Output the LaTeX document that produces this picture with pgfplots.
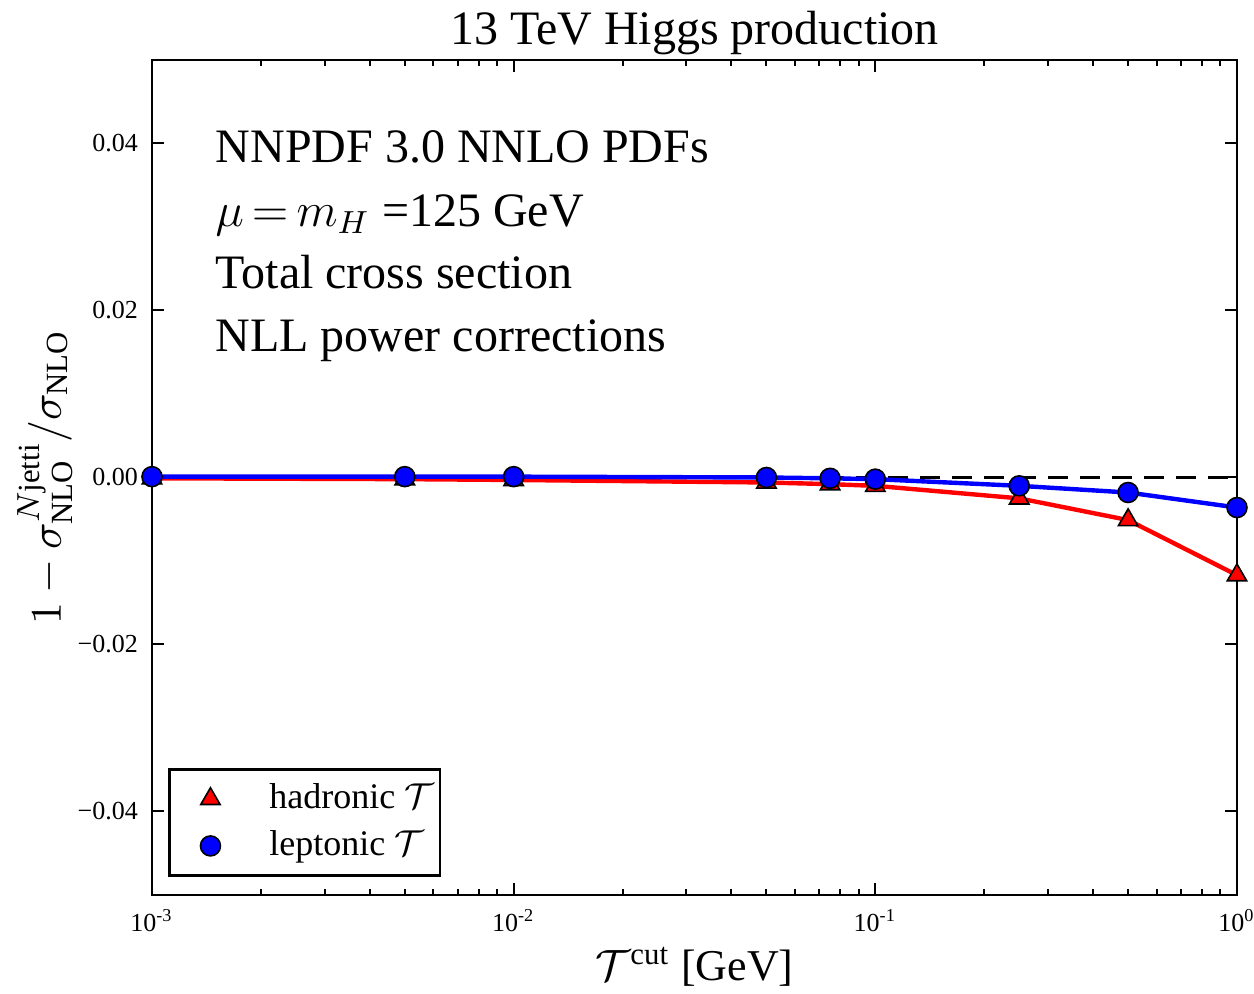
\documentclass[border=0pt]{standalone}
\usepackage{fontspec}
\setmainfont{Liberation Serif}
\usepackage{pgfplots}
\usepackage{pgfplotstable}
\pgfplotsset{compat=1.18}
\pgfplotsset{mylegimg/.style={legend image code/.code={\path[draw=none, fill=none] (0pt,-3pt) rectangle (23.5pt,3pt); \path[##1] plot coordinates {(10.25pt,0pt)};}}}

\pgfplotstableread{
x y
0.001 -0.0001
0.005 -0.0002
0.01 -0.0003
0.05 -0.0006
0.075 -0.0008
0.1 -0.0010
0.25 -0.0025
0.5 -0.0051
1 -0.0117
}\hadronic

\pgfplotstableread{
x y
0.001 0.0001
0.005 0.0001
0.01 0.0001
0.05 0.0000
0.075 -0.0001
0.1 -0.0002
0.25 -0.0010
0.5 -0.0018
1 -0.0036
}\leptonic

\begin{document}
\begin{tikzpicture}
\useasboundingbox (-38pt,-24.75pt) rectangle (275.5pt,223.75pt);
\begin{axis}[
  at={(0,0)}, anchor=south west,
  scale only axis, width=271.25pt, height=208.75pt,
  xmode=log, xmin=0.001, xmax=1, ymin=-0.05, ymax=0.05,
  scaled y ticks=false,
  xtick={0.001,0.01,0.1,1},
  xticklabels={10\textsuperscript{-3},10\textsuperscript{-2},10\textsuperscript{-1},10\textsuperscript{0}},
  ytick={-0.04,-0.02,0,0.02,0.04},
  yticklabels={−0.04,−0.02,0.00,0.02,0.04},
  tick align=inside, major tick length=3pt, minor tick length=1.6pt,
  axis line style={line width=0.6pt},
  tick style={black, line width=0.5pt},
  every tick label/.append style={font=\fontsize{6.5}{7}\selectfont},
  title={13 TeV Higgs production},
  title style={font=\fontsize{12}{14}\selectfont, at={(axis description cs:0.5,1)}, anchor=base, yshift=-2.25pt},
  xlabel={$\mathcal{T}^{\mathrm{cut}}$ [GeV]},
  xlabel style={font=\fontsize{11}{13}\selectfont, at={(axis description cs:0.5,-0.0862)}, anchor=center},
  ylabel={$1-\sigma^{N\mathrm{jetti}}_{\mathrm{NLO}}/\sigma_{\mathrm{NLO}}$},
  ylabel style={font=\fontsize{11}{13}\selectfont, at={(axis description cs:-0.0986,0.5)}, anchor=center},
  legend style={at={(axis description cs:0.015,0.022)}, anchor=south west, draw=black, line width=0.6pt,
    font=\fontsize{9}{11}\selectfont, row sep=0pt, inner xsep=0pt, inner ysep=1.5pt,
    nodes={inner xsep=1.5pt, inner ysep=2pt, text depth=0.15em}},
  legend cell align=left,
]
\addplot[black, dashed, line width=0.9pt, dash pattern=on 5pt off 3pt, forget plot] coordinates {(0.001,0) (1,0)};
\addplot[red, line width=1.1pt, mark=triangle*, mark size=2.8pt, mark options={fill=red, draw=black, line width=0.4pt, solid}, forget plot] table {\hadronic};
\addplot[blue, line width=1.1pt, mark=*, mark size=2.5pt, mark options={fill=blue, draw=black, line width=0.4pt, solid}, forget plot] table {\leptonic};
\addlegendimage{mylegimg, mark=triangle*, mark size=2.8pt, mark options={fill=red, draw=black, line width=0.4pt}}
\addlegendentry{hadronic $\mathcal{T}$}
\addlegendimage{mylegimg, mark=*, mark size=2.5pt, mark options={fill=blue, draw=black, line width=0.4pt}}
\addlegendentry{leptonic $\mathcal{T}$}
\node[anchor=base west, inner sep=0pt, font=\fontsize{12}{14}\selectfont] at (rel axis cs:0.058,0.877) {NNPDF 3.0 NNLO PDFs};
\node[anchor=base west, inner sep=0pt, font=\fontsize{12}{14}\selectfont] at (rel axis cs:0.058,0.801) {$\mu\,{=}\,m_H$ =125 GeV};
\node[anchor=base west, inner sep=0pt, font=\fontsize{12}{14}\selectfont] at (rel axis cs:0.058,0.726) {Total cross section};
\node[anchor=base west, inner sep=0pt, font=\fontsize{12}{14}\selectfont] at (rel axis cs:0.058,0.651) {NLL power corrections};
\end{axis}
\end{tikzpicture}
\end{document}
